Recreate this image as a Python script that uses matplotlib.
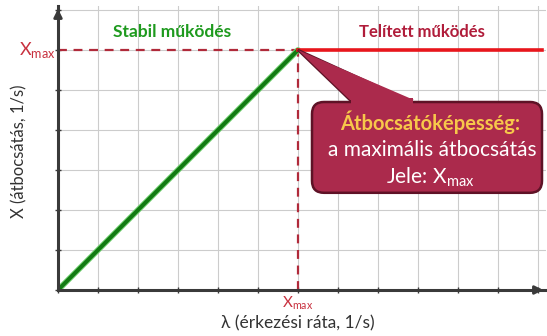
import matplotlib
matplotlib.use("Agg")
import matplotlib.pyplot as plt
import matplotlib.patheffects as pe
from matplotlib.patches import FancyBboxPatch, Polygon

plt.rcParams['font.family'] = ['Lato', 'DejaVu Sans']

# throughput curve: linear up to the capacity, flat afterwards
x_max = 6
lam_stable = [0, 6]
thr_stable = [0, 6]
lam_sat = [6, 12.1]
thr_sat = [6, 6]

grid_x = list(range(0, 13))
grid_y = list(range(0, 8))

fig = plt.figure(figsize=(5.47, 3.36), dpi=100)
ax = fig.add_axes([58 / 547, 46 / 336, 488 / 547, 284 / 336])
ax.set_xlim(0, 12.2)
ax.set_ylim(0, 7.1)

for gx in grid_x:
    ax.axvline(gx, color='#cccccc', lw=0.8, zorder=0)
for gy in grid_y:
    ax.axhline(gy, color='#cccccc', lw=0.8, zorder=0)

for s in ['top', 'right']:
    ax.spines[s].set_visible(False)
for s in ['left', 'bottom']:
    ax.spines[s].set_color('#3a3a3a')
    ax.spines[s].set_linewidth(2.2)
    ax.spines[s].set_zorder(4)

ax.set_xticks(grid_x)
ax.set_yticks(grid_y)
ax.set_xticklabels([])
ax.set_yticklabels([])
ax.tick_params(direction='inout', length=4, width=1, color='#3a3a3a')

# arrow heads on the axes
ax.annotate('', xy=(12.2, 0), xytext=(11.9, 0), xycoords='data',
            arrowprops=dict(arrowstyle='-|>', color='#3a3a3a', lw=2, mutation_scale=12),
            annotation_clip=False, zorder=5)
ax.annotate('', xy=(0, 7.1), xytext=(0, 6.8),
            arrowprops=dict(arrowstyle='-|>', color='#3a3a3a', lw=2, mutation_scale=12),
            annotation_clip=False, zorder=5)

# guide lines at the capacity
ax.plot([0, x_max], [x_max, x_max], color='#b02a3a', lw=1.6, dashes=(4, 3), zorder=2)
ax.plot([x_max, x_max], [0, x_max], color='#b02a3a', lw=1.6, dashes=(4, 3), zorder=2)

ax.plot(lam_stable, thr_stable, color='#137a13', lw=2.8, solid_capstyle='round', zorder=3,
        path_effects=[pe.Stroke(linewidth=4.2, foreground='#6fd06f'), pe.Normal()])
ax.plot(lam_sat, thr_sat, color='#e8161c', lw=2.6, zorder=3)

ax.text(2.85, 6.45, 'Stabil működés', color='#1e9a1e', fontsize=12.5, fontweight='bold',
        ha='center', va='center')
ax.text(9.1, 6.45, 'Telített működés', color='#b01c3a', fontsize=12, fontweight='bold',
        ha='center', va='center')

ax.text(-0.05, x_max, r'X$_{\mathregular{max}}$', color='#c8303e', fontsize=13,
        ha='right', va='center', clip_on=False)
ax.text(x_max, -0.12, r'X$_{\mathregular{max}}$', color='#c8303e', fontsize=11,
        ha='center', va='top', clip_on=False)

ax.set_xlabel('λ (érkezési ráta, 1/s)', fontsize=12.5, color='#333333')
ax.xaxis.set_label_coords(0.492, -0.09)
ax.set_ylabel('X (átbocsátás, 1/s)', fontsize=12, color='#333333')
ax.yaxis.set_label_coords(-0.062, 0.49)

# callout box
face = '#ab2a4c'
edge = '#5e1226'
ax.add_patch(Polygon([(x_max, x_max), (7.35, 4.7), (8.85, 4.7)], closed=True,
                     fc=face, ec=edge, lw=1.8, zorder=6))
ax.add_patch(FancyBboxPatch((6.35, 2.43), 5.75, 2.27, boxstyle='round,pad=0,rounding_size=0.3',
                            fc=face, ec=edge, lw=1.8, zorder=6))
ax.add_patch(Polygon([(x_max, x_max), (7.3, 4.75), (8.9, 4.75)], closed=True,
                     fc=face, ec='none', zorder=7))
ax.add_patch(Polygon([(7.32, 4.8), (8.88, 4.8), (8.88, 4.5), (7.32, 4.5)], closed=True,
                     fc=face, ec='none', zorder=7))

ax.text(9.3, 4.2, 'Átbocsátóképesség:', color='#f7c84a', fontsize=14.5, fontweight='bold',
        ha='center', va='center', zorder=8)
ax.text(9.35, 3.5, 'a maximális átbocsátás', color='white', fontsize=15,
        ha='center', va='center', zorder=8)
ax.text(9.3, 2.83, r'Jele: X$_{\mathregular{max}}$', color='white', fontsize=15,
        ha='center', va='center', zorder=8)

fig.savefig('out.png', dpi=100)
